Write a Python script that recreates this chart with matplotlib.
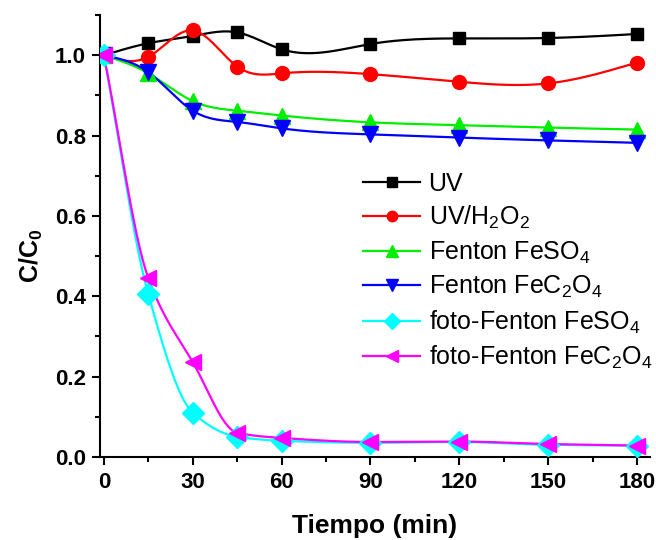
import numpy as np
import matplotlib
matplotlib.use("Agg")
import matplotlib.pyplot as plt

plt.rcParams['font.family'] = ['Liberation Sans', 'DejaVu Sans']
plt.rcParams['mathtext.fontset'] = 'custom'
plt.rcParams['mathtext.rm'] = 'Liberation Sans'
plt.rcParams['mathtext.bf'] = 'Liberation Sans:bold'

# Data (C/C0 vs time)
tiempo = [0, 15, 30, 45, 60, 90, 120, 150, 180]
uv = [1.0, 1.030, 1.048, 1.057, 1.015, 1.028, 1.042, 1.043, 1.053]
uv_h2o2 = [1.0, 0.996, 1.062, 0.972, 0.955, 0.953, 0.934, 0.930, 0.982]
fenton_feso4 = [1.0, 0.955, 0.886, 0.862, 0.850, 0.833, 0.826, 0.820, 0.815]
fenton_fec2o4 = [1.0, 0.958, 0.862, 0.834, 0.818, 0.803, 0.795, 0.788, 0.782]
foto_feso4 = [1.0, 0.405, 0.110, 0.050, 0.040, 0.035, 0.037, 0.030, 0.028]
foto_fec2o4 = [1.0, 0.445, 0.236, 0.060, 0.047, 0.037, 0.038, 0.032, 0.028]

labels = ['UV', 'UV/H$_\\mathregular{2}$O$_\\mathregular{2}$',
          'Fenton FeSO$_\\mathregular{4}$', 'Fenton FeC$_\\mathregular{2}$O$_\\mathregular{4}$',
          'foto-Fenton FeSO$_\\mathregular{4}$', 'foto-Fenton FeC$_\\mathregular{2}$O$_\\mathregular{4}$']
series = [uv, uv_h2o2, fenton_feso4, fenton_fec2o4, foto_feso4, foto_fec2o4]
colors = ['black', 'red', '#00ee00', 'blue', 'cyan', 'magenta']
markers = ['s', 'o', '^', 'v', 'D', '<']
msizes = [9, 10, 12, 12, 11, 12]
smooth = ['spline', 'spline', 'spline', 'spline', 'pchip', 'pchip']


def natural_spline(x, y, n=400):
    # natural cubic spline through the points, for the smooth connecting line
    x = np.asarray(x, float)
    y = np.asarray(y, float)
    k = len(x)
    h = np.diff(x)
    A = np.zeros((k, k))
    b = np.zeros(k)
    A[0, 0] = A[-1, -1] = 1
    for i in range(1, k - 1):
        A[i, i - 1] = h[i - 1]
        A[i, i] = 2 * (h[i - 1] + h[i])
        A[i, i + 1] = h[i]
        b[i] = 6 * ((y[i + 1] - y[i]) / h[i] - (y[i] - y[i - 1]) / h[i - 1])
    M = np.linalg.solve(A, b)
    xs = np.linspace(x[0], x[-1], n)
    idx = np.clip(np.searchsorted(x, xs) - 1, 0, k - 2)
    x0, x1 = x[idx], x[idx + 1]
    hh = x1 - x0
    ys = (M[idx] * (x1 - xs) ** 3 / (6 * hh) + M[idx + 1] * (xs - x0) ** 3 / (6 * hh)
          + (y[idx] / hh - M[idx] * hh / 6) * (x1 - xs)
          + (y[idx + 1] / hh - M[idx + 1] * hh / 6) * (xs - x0))
    return xs, ys


def pchip(x, y, n=400):
    # shape-preserving cubic (no overshoot) for the fast-decay curves
    x = np.asarray(x, float)
    y = np.asarray(y, float)
    h = np.diff(x)
    d = np.diff(y) / h
    m = np.zeros_like(y)
    for i in range(1, len(x) - 1):
        if d[i - 1] * d[i] > 0:
            w1 = 2 * h[i] + h[i - 1]
            w2 = h[i] + 2 * h[i - 1]
            m[i] = (w1 + w2) / (w1 / d[i - 1] + w2 / d[i])
    m[0] = d[0]
    m[-1] = d[-1]
    xs = np.linspace(x[0], x[-1], n)
    idx = np.clip(np.searchsorted(x, xs) - 1, 0, len(x) - 2)
    t = (xs - x[idx]) / h[idx]
    h00 = 2 * t ** 3 - 3 * t ** 2 + 1
    h10 = t ** 3 - 2 * t ** 2 + t
    h01 = -2 * t ** 3 + 3 * t ** 2
    h11 = t ** 3 - t ** 2
    ys = h00 * y[idx] + h10 * h[idx] * m[idx] + h01 * y[idx + 1] + h11 * h[idx] * m[idx + 1]
    return xs, ys


fig = plt.figure(figsize=(6.56, 5.4), dpi=100)
ax = fig.add_axes([0.152, 0.154, 0.839, 0.818])

for ys, c, m, ms, lab, sm in zip(series, colors, markers, msizes, labels, smooth):
    sx, sy = natural_spline(tiempo, ys) if sm == 'spline' else pchip(tiempo, ys)
    ax.plot(sx, sy, color=c, lw=1.6, zorder=2)
    ax.plot(tiempo, ys, linestyle='none', marker=m, color=c, ms=ms, zorder=3)
    # legend proxy
    ax.plot([], [], color=c, lw=1.6, marker=m, ms=ms * 0.75, label=lab)

ax.set_xlim(-1.4, 184.4)
ax.set_ylim(0, 1.1)
ax.set_xticks([0, 30, 60, 90, 120, 150, 180])
ax.set_xticks(np.arange(15, 181, 30), minor=True)
ax.set_yticks([0.0, 0.2, 0.4, 0.6, 0.8, 1.0])
ax.set_yticks(np.arange(0.1, 1.11, 0.2), minor=True)
ax.set_yticklabels(['0.0', '0.2', '0.4', '0.6', '0.8', '1.0'])

for s in ['top', 'right']:
    ax.spines[s].set_visible(False)
for s in ['left', 'bottom']:
    ax.spines[s].set_linewidth(1.5)
ax.tick_params(which='major', direction='out', length=6, width=1.5, labelsize=16)
ax.tick_params(which='minor', direction='out', length=3.5, width=1.5)
ax.tick_params(axis='x', which='major', pad=5)
ax.tick_params(axis='y', which='major', pad=4)
for t in ax.get_xticklabels() + ax.get_yticklabels():
    t.set_fontweight('bold')

ax.set_xlabel('Tiempo (min)', fontsize=19, fontweight='bold', labelpad=15)
ax.set_ylabel('C/C$_\\mathregular{0}$', fontsize=18, fontweight='bold')
ax.yaxis.set_label_coords(-0.1, 0.455)

h, l = ax.get_legend_handles_labels()
ax.legend(h, l, loc='upper left', bbox_to_anchor=(0.478, 0.645),
          frameon=False, fontsize=18, handlelength=2.3, handletextpad=0.33,
          labelspacing=0.33, borderpad=0, borderaxespad=0)

fig.savefig('out.png', dpi=100)
